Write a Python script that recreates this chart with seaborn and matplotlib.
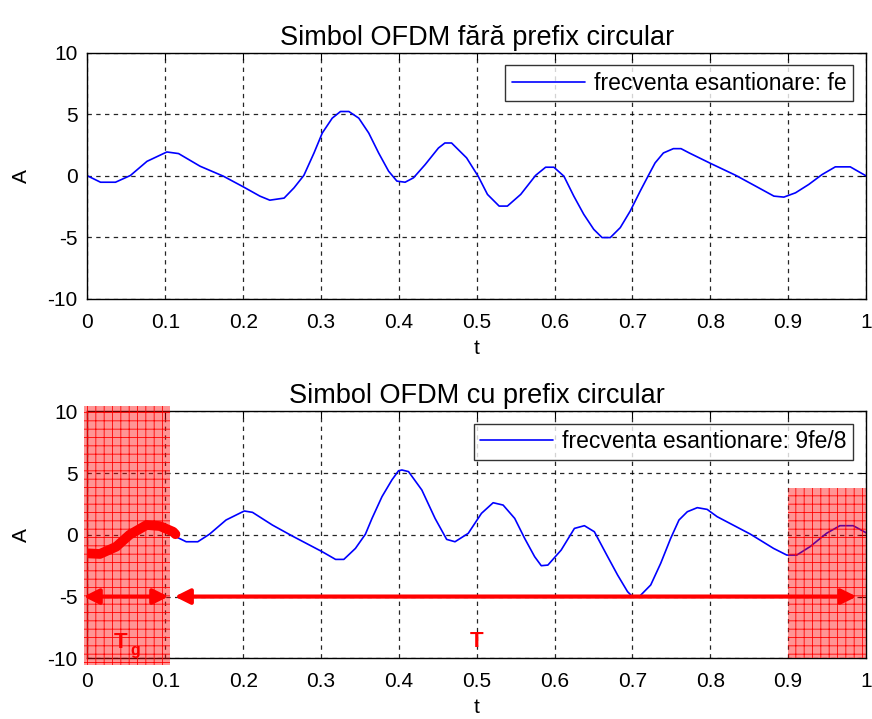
import numpy as np
import pandas as pd
import matplotlib
matplotlib.use("Agg")
import matplotlib.pyplot as plt
from matplotlib.patches import Rectangle
import seaborn as sns

# ---------------- data ----------------
t_top = [0.0, 0.0168, 0.036, 0.0552, 0.0765, 0.102, 0.117, 0.1447, 0.1746, 0.2, 0.2215,
         0.2342, 0.2526, 0.2654, 0.278, 0.291, 0.3016, 0.3144, 0.325, 0.3358, 0.3485,
         0.3613, 0.374, 0.3868, 0.3975, 0.408, 0.4188, 0.4337, 0.4508, 0.4591, 0.4677,
         0.487, 0.502, 0.5138, 0.5288, 0.5394, 0.5565, 0.5757, 0.5885, 0.5991, 0.612,
         0.6247, 0.6375, 0.6503, 0.661, 0.6716, 0.6844, 0.6972, 0.71, 0.7206, 0.7291,
         0.7398, 0.7526, 0.7624, 0.773, 0.8007, 0.8327, 0.8583, 0.8817, 0.8945, 0.9095,
         0.9265, 0.9435, 0.9606, 0.9798, 1.0]
a_top = [0.0, -0.52, -0.52, 0.03, 1.18, 1.94, 1.81, 0.78, -0.03, -0.89, -1.65,
         -1.98, -1.81, -0.97, 0.04, 1.86, 3.48, 4.69, 5.23, 5.23, 4.69,
         3.48, 1.86, 0.38, -0.43, -0.52, -0.16, 0.91, 2.26, 2.67, 2.67,
         1.46, -0.05, -1.51, -2.46, -2.46, -1.51, 0.04, 0.70, 0.70, -0.03,
         -1.65, -3.13, -4.35, -5.02, -5.02, -4.21, -2.86, -1.24, 0.04, 1.05,
         1.86, 2.21, 2.21, 1.86, 1.00, 0.04, -0.84, -1.65, -1.73, -1.38,
         -0.70, 0.10, 0.73, 0.73, 0.0]

t_bot = [0.1119, 0.1268, 0.1417, 0.1567, 0.178, 0.2014, 0.212, 0.2376, 0.2632, 0.3016,
         0.3187, 0.3293, 0.3442, 0.357, 0.3655, 0.3783, 0.391, 0.3996, 0.4039, 0.4124,
         0.4295, 0.4465, 0.4614, 0.4721, 0.4891, 0.5061, 0.5211, 0.5339, 0.5488, 0.5616,
         0.5744, 0.5829, 0.5914, 0.6085, 0.6255, 0.6383, 0.6511, 0.6682, 0.681, 0.6937,
         0.7001, 0.7087, 0.7235, 0.7363, 0.7491, 0.7598, 0.7705, 0.7833, 0.796, 0.8088,
         0.8514, 0.8813, 0.8983, 0.9111, 0.9281, 0.9495, 0.9665, 0.9836, 1.0]
a_bot = [-0.10, -0.56, -0.56, 0.05, 1.20, 1.93, 1.82, 0.79, -0.10, -1.37,
         -1.99, -1.99, -1.10, 0.05, 1.33, 3.09, 4.44, 5.19, 5.25, 5.12,
         3.63, 1.33, -0.37, -0.56, 0.12, 1.74, 2.60, 2.41, 1.33, -0.29,
         -1.77, -2.50, -2.45, -1.23, 0.52, 0.74, 0.25, -1.77, -3.26, -4.60,
         -5.01, -5.01, -4.06, -2.31, -0.29, 1.20, 1.87, 2.20, 2.06, 1.47,
         0.06, -1.10, -1.64, -1.64, -0.96, 0.13, 0.74, 0.74, 0.17]

# cyclic prefix (thick red segment)
t_cp = [0.0, 0.016, 0.037, 0.054, 0.076, 0.093, 0.11, 0.113]
a_cp = [-1.50, -1.55, -0.96, 0.0, 0.80, 0.71, 0.25, 0.05]

x_ticks = [0, 0.1, 0.2, 0.3, 0.4, 0.5, 0.6, 0.7, 0.8, 0.9, 1]
x_ticklabels = ["0", "0.1", "0.2", "0.3", "0.4", "0.5", "0.6", "0.7", "0.8", "0.9", "1"]
y_ticks = [-10, -5, 0, 5, 10]
y_ticklabels = ["-10", "-5", "0", "5", "10"]

title_top = "Simbol OFDM fără prefix circular"
title_bot = "Simbol OFDM cu prefix circular"
legend_top = "frecventa esantionare: fe"
legend_bot = "frecventa esantionare: 9fe/8"

# ---------------- style ----------------
sns.set_theme(style="white")
plt.rcParams["font.family"] = ["Liberation Sans", "DejaVu Sans"]
plt.rcParams["text.color"] = "black"
plt.rcParams["axes.labelcolor"] = "black"
plt.rcParams["xtick.color"] = "black"
plt.rcParams["ytick.color"] = "black"
plt.rcParams["hatch.linewidth"] = 0.6

BLUE = "#0000ff"
RED = "#ff0000"

fig = plt.figure(figsize=(8.72, 7.19), dpi=100)
ax1 = fig.add_axes([0.1003, 0.5844, 0.8928, 0.3421])
ax2 = fig.add_axes([0.1003, 0.0844, 0.8928, 0.3435])

df_top = pd.DataFrame({"t": t_top, "A": a_top})
df_bot = pd.DataFrame({"t": t_bot, "A": a_bot})
df_cp = pd.DataFrame({"t": t_cp, "A": a_cp})


def style_axes(ax, title):
    ax.set_xlim(0, 1)
    ax.set_ylim(-10, 10)
    ax.set_xticks(x_ticks)
    ax.set_xticklabels(x_ticklabels)
    ax.set_yticks(y_ticks)
    ax.set_yticklabels(y_ticklabels)
    ax.grid(True, color="black", linestyle=(0, (3.5, 3.5)), linewidth=0.9, alpha=0.85)
    ax.set_axisbelow(True)
    ax.tick_params(direction="in", length=5, width=0.8, top=True, right=True,
                   labelsize=15, colors="black")
    ax.tick_params(axis="x", pad=10)
    ax.tick_params(axis="y", pad=7)
    for s in ax.spines.values():
        s.set_color("black")
        s.set_linewidth(1.0)
        s.set_visible(True)
    ax.set_title(title, fontsize=19.5, pad=6, color="black")
    ax.set_xlabel("t", fontsize=15, labelpad=5)
    ax.set_ylabel("A", fontsize=15, labelpad=12)


def add_legend(ax):
    leg = ax.legend(loc="upper right", fontsize=16.5, frameon=True, fancybox=False,
                    edgecolor="black", handlelength=3.2, borderpad=0.28,
                    borderaxespad=0.55, handletextpad=0.4)
    leg.get_frame().set_linewidth(1.0)
    leg.set_zorder(6)
    return leg


# top
sns.lineplot(data=df_top, x="t", y="A", ax=ax1, color=BLUE, linewidth=1.2,
             label=legend_top, zorder=2)
style_axes(ax1, title_top)
add_legend(ax1)

# bottom
sns.lineplot(data=df_bot, x="t", y="A", ax=ax2, color=BLUE, linewidth=1.2,
             label=legend_bot, zorder=2)
sns.lineplot(data=df_cp, x="t", y="A", ax=ax2, color=RED, linewidth=7,
             solid_capstyle="round", zorder=5, legend=False)
style_axes(ax2, title_bot)
add_legend(ax2)

# shaded regions (cyclic prefix and copied tail)
r1 = Rectangle((-0.0045, -10.54), 0.1105, 20.97, facecolor=(1, 0, 0, 0.42),
               edgecolor=RED, hatch="++", linewidth=0, clip_on=False, zorder=4)
r2 = Rectangle((0.9, -10.0), 0.1, 13.77, facecolor=(1, 0, 0, 0.42),
               edgecolor=RED, hatch="++", linewidth=0, clip_on=False, zorder=4)
ax2.add_patch(r1)
ax2.add_patch(r2)

# arrows
arrow_style = "<|-|>,head_length=0.9,head_width=0.45"
ax2.annotate("", xy=(0.104, -5), xytext=(-0.005, -5), annotation_clip=False,
             arrowprops=dict(arrowstyle=arrow_style, color=RED, lw=3,
                             mutation_scale=10, shrinkA=0, shrinkB=0), zorder=7)
ax2.annotate("", xy=(0.988, -5), xytext=(0.112, -5), annotation_clip=False,
             arrowprops=dict(arrowstyle=arrow_style, color=RED, lw=3,
                             mutation_scale=10, shrinkA=0, shrinkB=0), zorder=7)

ax2.text(0.5, -8.6, "T", color=RED, fontsize=16, fontweight="bold",
         ha="center", va="center", zorder=7)
ax2.text(0.042, -8.75, "T", color=RED, fontsize=16, fontweight="bold",
         ha="center", va="center", zorder=7)
ax2.text(0.062, -9.35, "g", color=RED, fontsize=11.5, fontweight="bold",
         ha="center", va="center", zorder=7)

fig.savefig("out.png", dpi=100, facecolor="white")
